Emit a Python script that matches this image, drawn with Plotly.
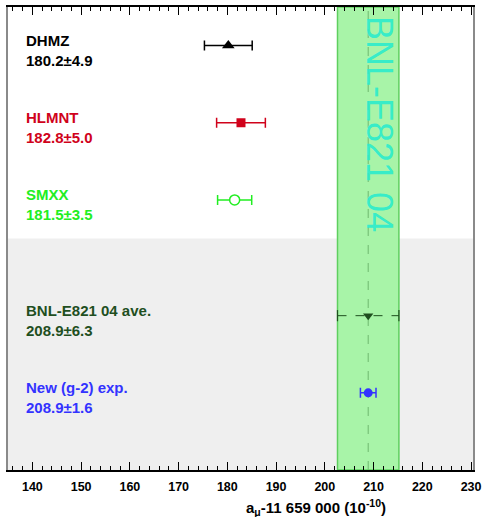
import plotly.graph_objects as go

# Measurements of a_mu - 11 659 000, in units of 1e-10
names = ["DHMZ", "HLMNT", "SMXX", "BNL-E821 04 ave.", "New (g-2) exp."]
values = [180.2, 182.8, 181.5, 208.9, 208.9]
errors = [4.9, 5.0, 3.5, 6.3, 1.6]
rows = [0.5, 1.5, 2.5, 4.0, 5.0]
colors = ["#000000", "#d0021b", "#22ee22", "#1f4f1f", "#3333ff"]
symbols = ["triangle-up", "square", "circle", "triangle-down", "circle"]
fills = ["#000000", "#d0021b", "#ffffff", "#1f4f1f", "#3333ff"]
sizes = [11, 9, 10, 9, 9]

# Reference experimental average drawn as a band
band_center = 208.9
band_error = 6.3
band_label = "BNL-E821 04"

tick_values = list(range(140, 231, 10))

FONT = "Liberation Sans"

fig = go.Figure()

# grey region behind the experimental rows
fig.add_shape(type="rect", xref="paper", yref="y", x0=0, x1=1, y0=3.0, y1=6.0,
              fillcolor="#efefef", line=dict(width=0), layer="below")
# experimental band
fig.add_shape(type="rect", xref="x", yref="paper",
              x0=band_center - band_error, x1=band_center + band_error, y0=0, y1=1,
              fillcolor="#a8f4a8", line=dict(color="#5fcf5f", width=1.5), layer="below")
fig.add_shape(type="line", xref="x", yref="paper", x0=band_center, x1=band_center, y0=0, y1=1,
              line=dict(color="#6fb86f", width=1, dash="dash"), layer="below")

for i, name in enumerate(names):
    dashed = name.startswith("BNL")
    if dashed:
        # dashed horizontal error bar with end caps
        fig.add_trace(go.Scatter(
            x=[values[i] - errors[i], values[i] + errors[i]], y=[rows[i], rows[i]],
            mode="lines+markers", line=dict(color=colors[i], width=1, dash="dash"),
            marker=dict(symbol="line-ns", size=8, line=dict(color=colors[i], width=1.2)),
            showlegend=False, hoverinfo="skip"))
        err = None
    else:
        err = dict(type="data", array=[errors[i]], visible=True, color=colors[i],
                   thickness=1.5, width=5)
    open_marker = fills[i] != colors[i]
    fig.add_trace(go.Scatter(
        x=[values[i]], y=[rows[i]], mode="markers", error_x=err,
        marker=dict(symbol=symbols[i], size=sizes[i], color=fills[i],
                    line=dict(color=colors[i], width=1.5 if open_marker else 0)),
        showlegend=False, name=name))
    fig.add_annotation(
        xref="paper", yref="y", x=0.034, y=rows[i], xanchor="left", yanchor="middle",
        yshift=-5, align="left", showarrow=False,
        text=f"<b>{name}</b><br><b>{values[i]}±{errors[i]}</b>",
        font=dict(family=FONT, size=15, color=colors[i]))

# rotated label inside the band
fig.add_annotation(
    xref="x", yref="paper", x=band_center + 2.2, y=0.985, xanchor="center", yanchor="top",
    textangle=90, showarrow=False, text=band_label,
    font=dict(family=FONT, size=36, color="rgba(40,235,205,0.9)"))

# axis title
fig.add_annotation(
    xref="paper", yref="paper", x=0.662, y=0, xanchor="center", yanchor="middle",
    yshift=-37, showarrow=False, text="<b>a<sub>μ</sub>-11 659 000 (10<sup>-10</sup>)</b>",
    font=dict(family=FONT, size=15, color="black"))

fig.update_xaxes(
    range=[135.0, 230.4], tickvals=tick_values, ticktext=[f"<b>{t}</b>" for t in tick_values],
    ticks="inside", ticklen=8, tickcolor="black", tickwidth=1, ticklabelstandoff=4,
    minor=dict(dtick=2, tick0=140, ticks="inside", ticklen=4, tickcolor="black", tickwidth=1, showgrid=False),
    showline=True, linecolor="black", linewidth=1.5, mirror="allticks",
    showgrid=False, zeroline=False, automargin=False,
    tickfont=dict(family=FONT, size=12.5, color="black"))
fig.update_yaxes(
    range=[6, 0], showticklabels=False, ticks="", showgrid=False, zeroline=False,
    showline=True, linecolor="#8a8a8a", linewidth=1.5, mirror=True, automargin=False)

fig.update_layout(
    width=483, height=517, margin=dict(l=8, r=10, t=7, b=47),
    paper_bgcolor="white", plot_bgcolor="white", showlegend=False)

fig.write_html("out.html")
